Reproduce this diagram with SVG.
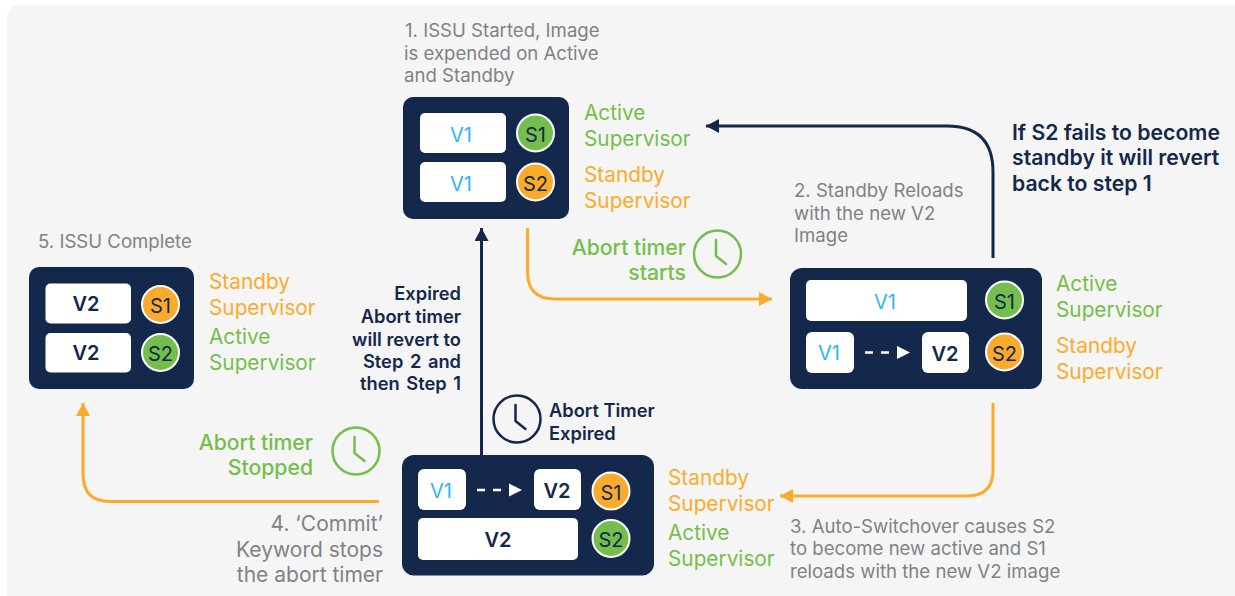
<svg xmlns="http://www.w3.org/2000/svg" width="1235" height="596" viewBox="0 0 1235 596">
<style>
text{font-family:Inter,"Liberation Sans",sans-serif;transform:translateY(.6px)}
.step{font-size:18.6px;fill:#808285}
.step4{font-size:21px;fill:#808285;text-anchor:end}
.lab{font-size:20.8px}
.g{fill:#74bf4b}.o{fill:#fbab2c}
.strong{font-size:18.3px;font-weight:600;fill:#14284b}
.wide{word-spacing:2px}
.big{font-size:21.2px;font-weight:600;fill:#14284b}
.gb{font-size:21.2px;font-weight:500;fill:#74bf4b}
.card{fill:#14284b}
.box{fill:#fff}
.v{font-size:20px;text-anchor:middle}
.v1{fill:#2ab7f2}.v2{fill:#14284b;font-weight:600}
.c{stroke:#fff;stroke-width:2}
.s{font-size:20px;text-anchor:middle;fill:#14284b}
.end{text-anchor:end}
.wire{fill:none;stroke-width:3}
.n{stroke:#14284b}.ow{stroke:#fbab2c}
.clock{fill:none;stroke-width:2.5;stroke-linecap:round;stroke-linejoin:round}
</style>
<defs>
<marker id="an" markerUnits="userSpaceOnUse" markerWidth="14" markerHeight="14" refX="13" refY="7" orient="auto"><path d="M0 0L13 7L0 14Z" fill="#14284b"/></marker>
<marker id="ao" markerUnits="userSpaceOnUse" markerWidth="14" markerHeight="14" refX="13" refY="7" orient="auto"><path d="M0 0L13 7L0 14Z" fill="#fbab2c"/></marker>
</defs>
<rect x="7" y="5" width="1240" height="600" rx="12" fill="#f5f5f5"/>
<g id="connectors">
<path class="wire n" marker-end="url(#an)" d="M993 258V172Q993 126 947 126H706"/>
<path class="wire ow" marker-end="url(#ao)" d="M527.500 228V272Q527.500 299 555 299H772"/>
<path class="wire ow" marker-end="url(#ao)" d="M993 403V470Q993 496 967 496H780"/>
<path class="wire ow" marker-end="url(#ao)" d="M379 501.500H110Q83 501.500 83 474V403"/>
<path class="wire n" marker-end="url(#an)" d="M481.500 455V228"/>
</g>
<g id="node-1">
<text class="step" x="405" y="36">1. ISSU Started, Image</text>
<text class="step" x="404" y="59">is expended on Active</text>
<text class="step" x="404" y="81">and Standby</text>
<rect class="card" x="403" y="97" width="166" height="122" rx="10"/>
<rect class="box" x="420" y="113" width="86" height="40" rx="5"/>
<rect class="box" x="420" y="162" width="86" height="40" rx="5"/>
<text class="v v1" x="461" y="141">V1</text>
<text class="v v1" x="461" y="190">V1</text>
<circle class="c" cx="535.500" cy="133" r="18.500" fill="#74bf4b"/>
<circle class="c" cx="535.500" cy="182" r="18.500" fill="#fbab2c"/>
<text class="s" x="535.500" y="141">S1</text>
<text class="s" x="535.500" y="190">S2</text>
<text class="lab g" x="584" y="119">Active</text>
<text class="lab g" x="584" y="145">Supervisor</text>
<text class="lab o" x="584" y="181">Standby</text>
<text class="lab o" x="584" y="207">Supervisor</text>
</g>
<g id="note-abort-start">
<text class="gb end" x="686" y="254">Abort timer</text>
<text class="gb end" x="686" y="279">starts</text>
<g class="clock" stroke="#74bf4b"><circle cx="717.500" cy="254" r="23.500"/><path d="M716 240V256L726 264"/></g>
</g>
<g id="node-2">
<text class="step" x="794" y="196">2. Standby Reloads</text>
<text class="step" x="794" y="219">with the new V2</text>
<text class="step" x="794" y="241">Image</text>
<rect class="card" x="790" y="268" width="252" height="121" rx="12"/>
<rect class="box" x="806" y="280" width="161" height="41" rx="5"/>
<rect class="box" x="806" y="332" width="48" height="41" rx="6"/>
<rect class="box" x="922" y="332" width="47" height="41" rx="6"/>
<text class="v v1" x="885" y="308">V1</text>
<text class="v v1" x="829" y="359">V1</text>
<text class="v v2" x="945" y="360">V2</text>
<path d="M865 352.500H873M881 352.500H889" stroke="#fff" stroke-width="2.500" fill="none"/>
<path d="M897 346L910 352.500L897 359Z" fill="#fff"/>
<circle class="c" cx="1004.500" cy="300" r="18.500" fill="#74bf4b"/>
<circle class="c" cx="1004.500" cy="352" r="18.500" fill="#fbab2c"/>
<text class="s" x="1004.500" y="308">S1</text>
<text class="s" x="1004.500" y="360">S2</text>
<text class="lab g" x="1056" y="290">Active</text>
<text class="lab g" x="1056" y="316">Supervisor</text>
<text class="lab o" x="1056" y="352">Standby</text>
<text class="lab o" x="1056" y="378">Supervisor</text>
</g>
<g id="note-revert">
<text class="big" x="1012" y="139">If S2 fails to become</text>
<text class="big" x="1012" y="164">standby it will revert</text>
<text class="big" x="1012" y="190">back to step 1</text>
</g>
<g id="node-3">
<rect class="card" x="402" y="455" width="252" height="120.500" rx="12"/>
<rect class="box" x="418" y="469" width="48" height="41" rx="6"/>
<rect class="box" x="534" y="469" width="47" height="41" rx="6"/>
<rect class="box" x="418" y="518" width="160" height="42" rx="5"/>
<text class="v v1" x="441" y="497">V1</text>
<text class="v v2" x="557" y="497">V2</text>
<text class="v v2" x="498" y="546">V2</text>
<path d="M477 490H485M493 490H501" stroke="#fff" stroke-width="2.500" fill="none"/>
<path d="M509 483.500L522 490L509 496.500Z" fill="#fff"/>
<circle class="c" cx="611" cy="491" r="18.500" fill="#fbab2c"/>
<circle class="c" cx="611" cy="538.500" r="18.500" fill="#74bf4b"/>
<text class="s" x="611" y="499">S1</text>
<text class="s" x="611" y="546.500">S2</text>
<text class="lab o" x="668" y="484">Standby</text>
<text class="lab o" x="668" y="510">Supervisor</text>
<text class="lab g" x="668" y="539">Active</text>
<text class="lab g" x="668" y="565">Supervisor</text>
</g>
<g id="step-3-label">
<text class="step" x="790" y="532.500">3. Auto-Switchover causes S2</text>
<text class="step" x="790" y="554.500">to become new active and S1</text>
<text class="step" x="790" y="577.500">reloads with the new V2 image</text>
</g>
<g id="step-4-label">
<text class="step4" x="383" y="530">4. ‘Commit’</text>
<text class="step4" x="383" y="556">Keyword stops</text>
<text class="step4" x="383" y="581">the abort timer</text>
</g>
<g id="note-expired">
<g class="clock" stroke="#14284b"><circle cx="517" cy="419" r="23.500"/><path d="M515.500 405V421L525.500 429"/></g>
<text class="strong" x="549" y="416">Abort Timer</text>
<text class="strong" x="549" y="439">Expired</text>
</g>
<g id="note-revert-2">
<text class="strong end" x="461" y="299">Expired</text>
<text class="strong end" x="461" y="322">Abort timer</text>
<text class="strong end" x="461" y="345">will revert to</text>
<text class="strong end wide" x="461" y="367">Step 2 and</text>
<text class="strong end wide" x="461" y="389">then Step 1</text>
</g>
<g id="note-abort-stop">
<text class="gb end" x="313" y="449">Abort timer</text>
<text class="gb end" x="313" y="474">Stopped</text>
<g class="clock" stroke="#74bf4b"><circle cx="356" cy="451" r="23.500"/><path d="M354.500 437V453L364.500 461"/></g>
</g>
<g id="node-5">
<text class="step" x="38" y="247">5. ISSU Complete</text>
<rect class="card" x="29" y="267" width="165" height="122" rx="10"/>
<rect class="box" x="45.500" y="283.500" width="85.500" height="40" rx="5"/>
<rect class="box" x="45.500" y="333" width="85.500" height="39.500" rx="5"/>
<text class="v v2" x="86" y="310">V2</text>
<text class="v v2" x="86" y="359">V2</text>
<circle class="c" cx="160.500" cy="304.500" r="18.500" fill="#fbab2c"/>
<circle class="c" cx="160.500" cy="352.500" r="18.500" fill="#74bf4b"/>
<text class="s" x="160.500" y="312.500">S1</text>
<text class="s" x="160.500" y="360.500">S2</text>
<text class="lab o" x="209" y="288">Standby</text>
<text class="lab o" x="209" y="314">Supervisor</text>
<text class="lab g" x="209" y="343">Active</text>
<text class="lab g" x="209" y="369">Supervisor</text>
</g>
</svg>
